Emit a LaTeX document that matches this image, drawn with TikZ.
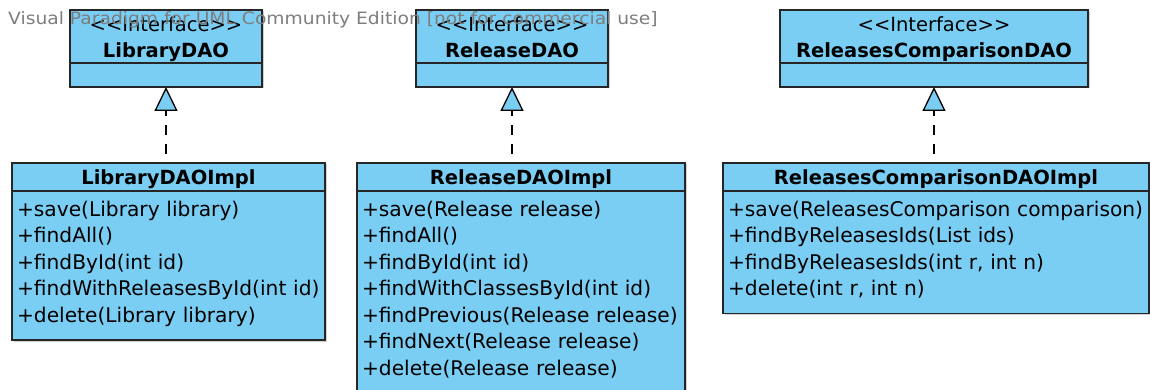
\documentclass[tikz,border=0pt]{standalone}
\usepackage{fontspec}
\setmainfont{DejaVu Sans}
\newfontfamily\markfont[FakeStretch=1.1]{DejaVu Sans}
\usetikzlibrary{arrows.meta,positioning,shadows}
\definecolor{umlblue}{RGB}{122,206,244}
\definecolor{markgray}{RGB}{125,125,125}

\tikzset{
	every class/.style={draw=black!85, line width=1.3pt, fill=umlblue, inner sep=0pt, outer sep=0pt,
		drop shadow={shadow xshift=1.5pt, shadow yshift=-1.5pt, fill=black!30, opacity=0.6}},
	iface head/.style={every class/.try, anchor=north west, align=center, font=\fontsize{19.5}{26}\selectfont,
		execute at begin node={\rule{0pt}{22pt}}, execute at end node={\rule[-5pt]{0pt}{5pt}}},
	impl head/.style={every class/.try, anchor=north west, font=\fontsize{19.5}{26}\selectfont\bfseries,
		execute at begin node={\rule{0pt}{22pt}}, execute at end node={\rule[-6pt]{0pt}{6pt}}},
	class body/.style={every class/.try, align=left, inner xsep=5pt, font=\fontsize{20.2}{26.5}\selectfont,
		execute at begin node={\rule{0pt}{25pt}}, execute at end node={\rule[-18pt]{0pt}{18pt}}},
	realizes/.style={line width=1.3pt, dash pattern=on 10pt off 9pt, dash phase=10pt,
		-{Triangle[width=23pt, length=24pt, fill=umlblue]}},
	watermark/.style={anchor=west, inner sep=0pt, text=markgray, font=\markfont\fontsize{17}{20}\selectfont}
}

\begin{document}
\begin{tikzpicture}[x=1pt, y=-1pt]
	\useasboundingbox (0,0) rectangle (1150,390);
	
	\foreach \n/\x/\w/\cname in {libdao/70/192/LibraryDAO, reldao/416/192/ReleaseDAO, cmpdao/780/308/ReleasesComparisonDAO} {
	\node [iface head, text width=\w] (\n-head) at (\x,10) {{<}{<}Interface{>}{>}\\\textbf{\cname}};
	\node [every class/.try, minimum width=\w, minimum height=24, below=0pt of \n-head] (\n-body) {};
	}
	
	\foreach \n/\x/\w/\cname in {libimpl/12/313/LibraryDAOImpl, relimpl/357/328/ReleaseDAOImpl, cmpimpl/723/426/ReleasesComparisonDAOImpl}
	\node [impl head, minimum width=\w] (\n-head) at (\x,163) {\cname};
	
	\node [class body, text width=303, below=0pt of libimpl-head] (libimpl-body) {+save(Library library)\\+findAll()\\+findById(int id)\\+findWithReleasesById(int id)\\+delete(Library library)};
	
	\node [class body, text width=318, below=0pt of relimpl-head] (relimpl-body) {+save(Release release)\\+findAll()\\+findById(int id)\\+findWithClassesById(int id)\\+findPrevious(Release release)\\+findNext(Release release)\\+delete(Release release)};
	
	\node [class body, text width=416, below=0pt of cmpimpl-head] (cmpimpl-body) {+save(ReleasesComparison comparison)\\+findByReleasesIds(List ids)\\+findByReleasesIds(int r, int n)\\+delete(int r, int n)};
	
	\foreach \a/\b in {libimpl/libdao, relimpl/reldao, cmpimpl/cmpdao}
	\draw [realizes] (\b-body.south |- \a-head.north) -- (\b-body.south);
	
	\node [watermark] (mark) at (8,20) {Visual Paradigm for UML Community Edition [not for commercial use]};
\end{tikzpicture}
\end{document}
